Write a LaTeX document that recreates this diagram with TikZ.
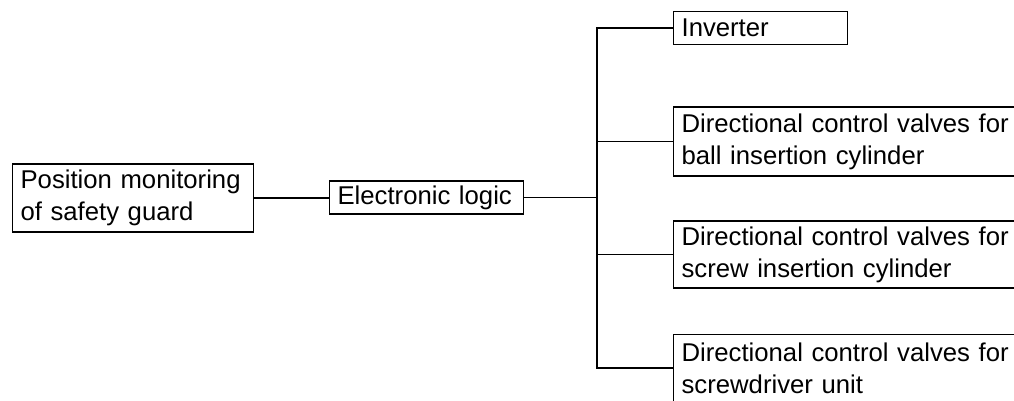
\documentclass[tikz,border=0pt]{standalone}
\usepackage{fontspec}
\setmainfont{Liberation Sans}
\begin{document}
\begin{tikzpicture}[x=1pt,y=-1pt,
  box/.style={draw, line width=1.2pt, anchor=west, align=left, inner xsep=8pt, inner ysep=0pt,
    font=\fontsize{25.7}{32}\selectfont},
  link/.style={line width=1.1pt}]
\useasboundingbox (0,0) rectangle (1014,401);
\clip (0,0) rectangle (1014,401);
% source and logic
\node[box, minimum width=241pt, minimum height=68pt, text width=225pt] (pos) at (12,198) {Position monitoring\\of safety guard};
\node[box, minimum width=194pt, minimum height=33pt, text width=178pt] (logic) at (329,197.5) {Electronic logic};
% outputs
\node[box, minimum width=174pt, minimum height=33pt, text width=158pt] (inv) at (673,28) {Inverter};
\node[box, minimum width=380pt, minimum height=69pt, text width=364pt] (ball) at (673,141.5) {Directional control valves for\\ball insertion cylinder};
\node[box, minimum width=380pt, minimum height=67pt, text width=364pt] (screw) at (673,254.5) {Directional control valves for\\screw insertion cylinder};
\node[box, minimum width=380pt, minimum height=67pt, text width=364pt] (drv) at (673,368) {Directional control valves for\\screwdriver unit};
% trunk
\coordinate (t) at (597,0);
\draw[link] (pos.east) -- (pos.east -| logic.west);
\draw[link] (logic.east) -- (logic.east -| t);
\draw[link] (inv.west) -- (inv.west -| t) -- (drv.west -| t) -- (drv.west);
\draw[link] (ball.west -| t) -- (ball.west);
\draw[link] (screw.west -| t) -- (screw.west);
\end{tikzpicture}
\end{document}
